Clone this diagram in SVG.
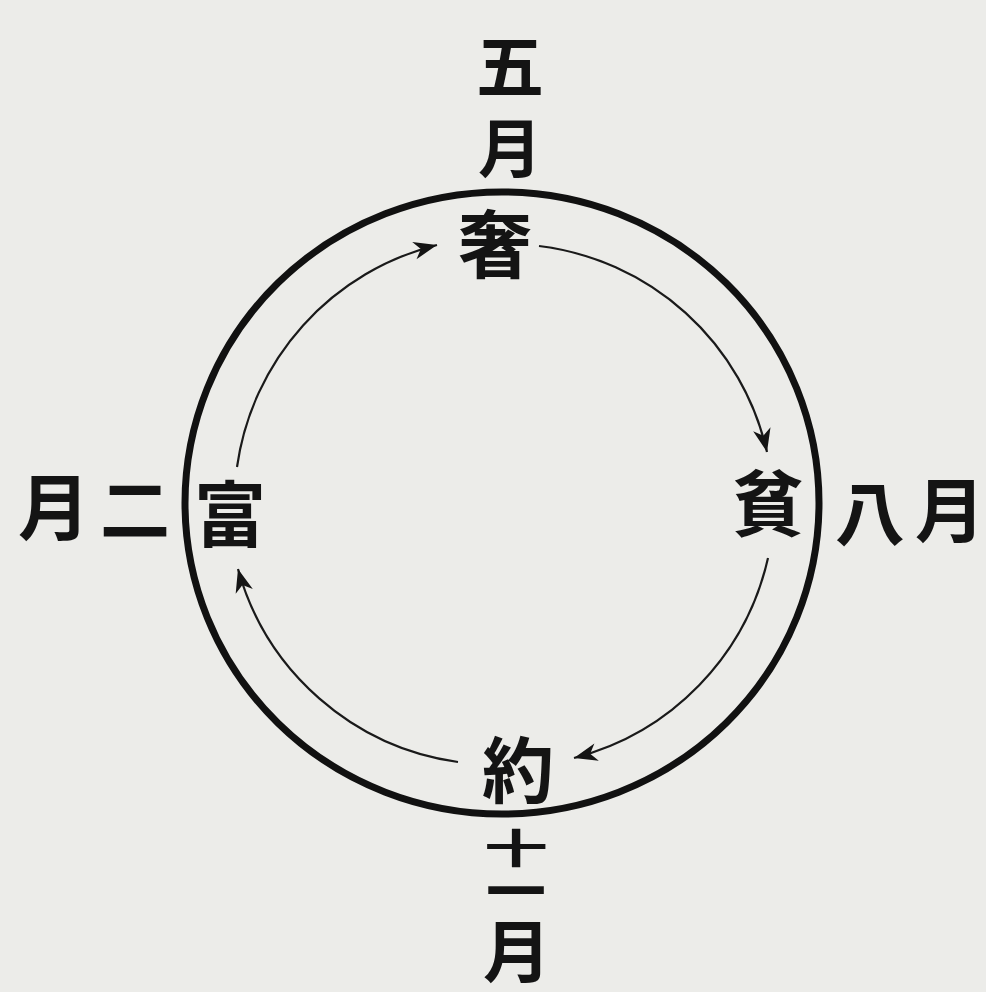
<svg xmlns="http://www.w3.org/2000/svg" width="986" height="992" viewBox="0 0 986 992">
<style>
text{font-family:"Noto Sans CJK JP","Noto Sans CJK TC",sans-serif;font-weight:700;fill:#141414;text-anchor:middle}
.arc{fill:none;stroke:#1a1a1a;stroke-width:2.2;marker-end:url(#ah)}
</style>
<defs>
<marker id="ah" markerUnits="userSpaceOnUse" markerWidth="30" markerHeight="20" viewBox="-22 -9 24 18" refX="0" refY="0" orient="auto">
<path d="M0,0 L-21,-8 L-15,0 L-21,8 Z" fill="#141414"/>
</marker>
</defs>
<rect width="986" height="992" fill="#ecece9"/>
<g id="ring">
<ellipse cx="502" cy="503" rx="317" ry="311" fill="none" stroke="#111" stroke-width="7"/>
</g>
<g id="connectors">
<path class="arc" d="M237,467 A267,267 0 0 1 437,245"/>
<path class="arc" d="M539,246 A267,267 0 0 1 767,452"/>
<path class="arc" d="M768,558 A267,267 0 0 1 574,758"/>
<path class="arc" d="M458,762 A267,267 0 0 1 238,569"/>
</g>
<g id="node-she"><text x="495" y="272" font-size="74">奢</text></g>
<g id="node-pin"><text x="768" y="530" font-size="72">貧</text></g>
<g id="node-yue"><text x="518" y="797" font-size="72">約</text></g>
<g id="node-fu"><text x="230" y="541" font-size="72">富</text></g>
<g id="label-may">
<text x="510" y="92" font-size="68">五</text>
<text x="510" y="172" font-size="64">月</text>
</g>
<g id="label-aug">
<text x="870" y="540" font-size="70">八</text>
<text x="950" y="537" font-size="70">月</text>
</g>
<g id="label-feb">
<text x="54" y="534" font-size="72">月</text>
<text x="135" y="536" font-size="70">二</text>
</g>
<g id="label-nov">
<text transform="translate(516 848) scale(1 0.62)" y="24" font-size="64">十</text>
<text x="516" y="914" font-size="60">一</text>
<text x="517" y="977" font-size="68">月</text>
</g>
</svg>
